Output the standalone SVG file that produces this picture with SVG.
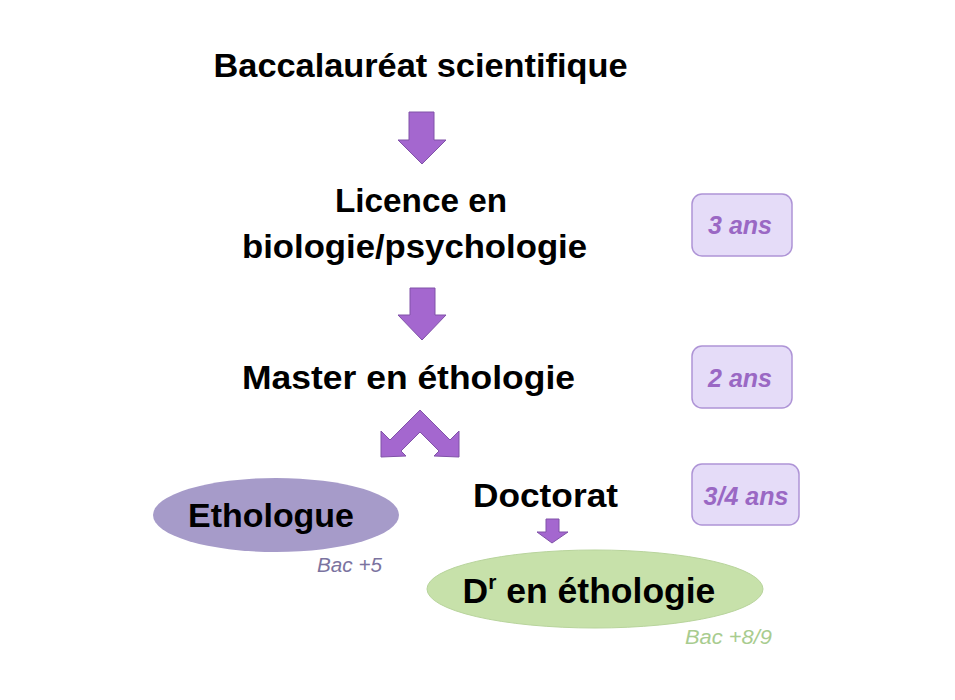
<svg xmlns="http://www.w3.org/2000/svg" width="955" height="700" viewBox="0 0 955 700">
<style>
.t{font-family:"Liberation Sans",Arial,sans-serif;font-weight:bold;fill:#000;text-anchor:middle}
.arrow{fill:#a467cf;stroke:#8052a8;stroke-width:1}
.box{fill:#e5dcf8;stroke:#ae94d6;stroke-width:1.5}
.bt{font-family:"Liberation Sans",Arial,sans-serif;font-weight:bold;font-style:italic;fill:#9a68c4;font-size:25px;text-anchor:middle}
.bac{font-family:"Liberation Sans",Arial,sans-serif;font-style:italic;font-size:20px;text-anchor:middle}
</style>
<rect width="955" height="700" fill="#fff"/>
<g id="connectors">
<polygon class="arrow" points="409,112 434,112 434,140 446,140 422,164 398,140 409,140"/>
<polygon class="arrow" points="410,288 435,288 435,315 446,315 422,340 398,315 410,315"/>
<polygon class="arrow" points="420,410 450,440 459,431 459,457 434,456 439,451 420,432 401,451 406,456 381,457 381,431 390,440"/>
<polygon class="arrow" points="546,519 559,519 559,532 568,532 552,543 537,532 546,532"/>
</g>
<g id="bac"><text class="t" x="420.5" y="77" font-size="34" textLength="414" lengthAdjust="spacingAndGlyphs">Baccalauréat scientifique</text></g>
<g id="licence">
<text class="t" x="421" y="212" font-size="34" textLength="172" lengthAdjust="spacingAndGlyphs">Licence en</text>
<text class="t" x="414.5" y="258" font-size="34" textLength="345" lengthAdjust="spacingAndGlyphs">biologie/psychologie</text>
</g>
<g id="master"><text class="t" x="408.5" y="389" font-size="34" textLength="333" lengthAdjust="spacingAndGlyphs">Master en éthologie</text></g>
<g id="doctorat"><text class="t" x="545.5" y="507" font-size="34" textLength="145" lengthAdjust="spacingAndGlyphs">Doctorat</text></g>
<g id="ethologue">
<ellipse cx="276" cy="515" rx="123" ry="37" fill="#a69bc9"/>
<text class="t" x="271" y="527" font-size="34" textLength="166" lengthAdjust="spacingAndGlyphs">Ethologue</text>
<text class="bac" x="349.5" y="572" fill="#7b739f" textLength="65" lengthAdjust="spacingAndGlyphs">Bac +5</text>
</g>
<g id="docteur">
<ellipse cx="595" cy="589" rx="168" ry="39" fill="#c7e1aa" stroke="#b8d49c" stroke-width="1"/>
<text class="t" x="589" y="603" font-size="35.5"><tspan>D</tspan><tspan font-size="21" dy="-14">r</tspan><tspan dy="14"> en éthologie</tspan></text>
<text class="bac" x="728.5" y="644" fill="#a8cc8f" textLength="87" lengthAdjust="spacingAndGlyphs">Bac +8/9</text>
</g>
<g id="box3ans">
<rect class="box" x="692" y="194" width="100" height="62" rx="10"/>
<text class="bt" x="740" y="234">3 ans</text>
</g>
<g id="box2ans">
<rect class="box" x="692" y="346" width="100" height="62" rx="10"/>
<text class="bt" x="740" y="387">2 ans</text>
</g>
<g id="box34ans">
<rect class="box" x="692" y="464" width="107" height="61" rx="10"/>
<text class="bt" x="746" y="505">3/4 ans</text>
</g>
</svg>
